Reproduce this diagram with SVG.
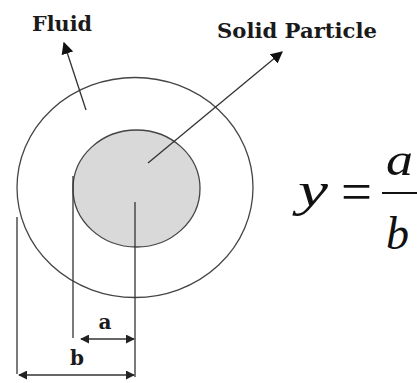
<svg xmlns="http://www.w3.org/2000/svg" width="417" height="383" viewBox="0 0 417 383">
<style>
.ln{stroke:#333;stroke-width:1.3;fill:none}
.lbl{font-family:"DejaVu Serif","Liberation Serif",serif;font-weight:bold;fill:#1a1a1a}
.eq{font-family:"Liberation Serif","Times New Roman",serif;font-style:italic;fill:#111}
</style>
<defs>
<marker id="ah" viewBox="0 0 10 10" refX="9" refY="5" markerWidth="9" markerHeight="9" markerUnits="userSpaceOnUse" orient="auto-start-reverse">
<path d="M0,0 L10,5 L0,10 z" fill="#222"/>
</marker>
<marker id="ahL" viewBox="0 0 10 10" refX="9" refY="5" markerWidth="12" markerHeight="12" markerUnits="userSpaceOnUse" orient="auto">
<path d="M0,0 L10,5 L0,10 z" fill="#111"/>
</marker>
</defs>
<rect width="417" height="383" fill="#fff"/>
<g id="fluid">
<ellipse cx="135" cy="187.5" rx="118" ry="110" fill="#fff" stroke="#444" stroke-width="1.3"/>
</g>
<g id="particle">
<ellipse cx="136.5" cy="188.5" rx="63.5" ry="58.5" fill="#d9d9d9" stroke="#444" stroke-width="1.3"/>
</g>
<g id="connectors">
<line class="ln" x1="86" y1="110" x2="64" y2="43" marker-end="url(#ahL)"/>
<line class="ln" x1="148" y1="163" x2="282" y2="52" marker-end="url(#ahL)"/>
<line class="ln" x1="73" y1="176" x2="73" y2="338"/>
<line class="ln" x1="135" y1="202" x2="135" y2="377"/>
<line class="ln" x1="17" y1="217" x2="17" y2="374"/>
<line class="ln" x1="81" y1="339" x2="134" y2="339" marker-start="url(#ah)" marker-end="url(#ah)"/>
<line class="ln" x1="19" y1="375" x2="134" y2="375" marker-start="url(#ah)" marker-end="url(#ah)"/>
</g>
<g id="label-fluid"><text class="lbl" x="32" y="31" font-size="20" textLength="60" lengthAdjust="spacingAndGlyphs">Fluid</text></g>
<g id="label-solid"><text class="lbl" x="217" y="38" font-size="20" textLength="160" lengthAdjust="spacingAndGlyphs">Solid Particle</text></g>
<g id="label-a"><text class="lbl" x="105" y="329" font-size="20" text-anchor="middle">a</text></g>
<g id="label-b"><text class="lbl" x="77" y="365" font-size="20" text-anchor="middle">b</text></g>
<g id="equation">
<text class="eq" x="298" y="206" font-size="48" textLength="30" lengthAdjust="spacingAndGlyphs">y</text>
<text x="341" y="210" font-size="54" font-family="Liberation Serif,serif" fill="#111" textLength="31" lengthAdjust="spacingAndGlyphs">=</text>
<line x1="382" y1="193" x2="417" y2="193" stroke="#111" stroke-width="2"/>
<text class="eq" x="386" y="175" font-size="46" textLength="27" lengthAdjust="spacingAndGlyphs">a</text>
<text class="eq" x="386" y="249" font-size="46">b</text>
</g>
</svg>
